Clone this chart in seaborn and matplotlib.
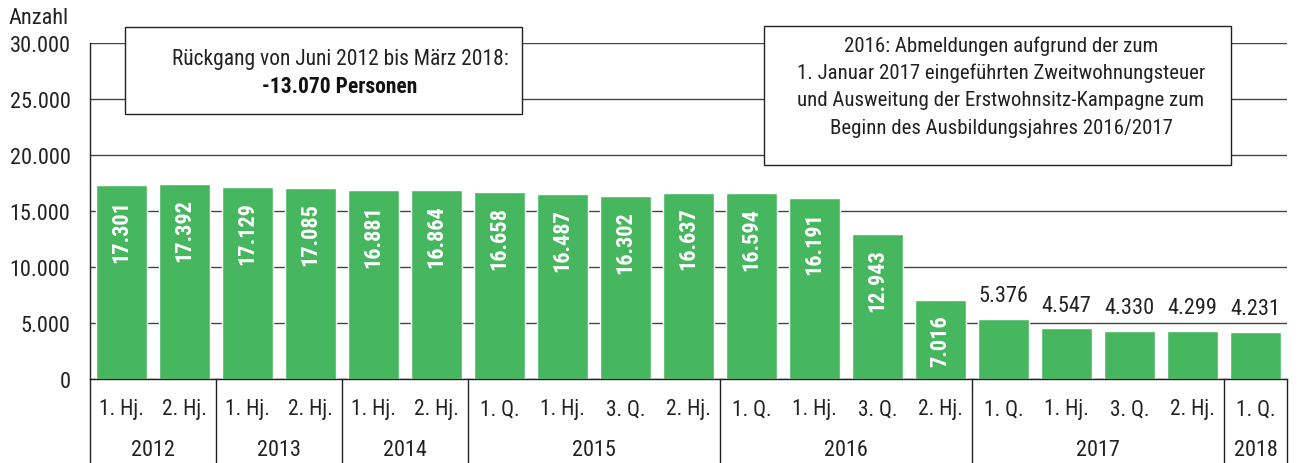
import matplotlib
matplotlib.use("Agg")
import matplotlib.pyplot as plt
from matplotlib.patches import Rectangle
from matplotlib.font_manager import findfont, FontProperties
import seaborn as sns
import pandas as pd
import numpy as np

years = ["2012", "2012", "2013", "2013", "2014", "2014", "2015", "2015", "2015", "2015",
         "2016", "2016", "2016", "2016", "2017", "2017", "2017", "2017", "2018"]
periods = ["1. Hj.", "2. Hj.", "1. Hj.", "2. Hj.", "1. Hj.", "2. Hj.", "1. Q.", "1. Hj.", "3. Q.", "2. Hj.",
           "1. Q.", "1. Hj.", "3. Q.", "2. Hj.", "1. Q.", "1. Hj.", "3. Q.", "2. Hj.", "1. Q."]
values = [17301, 17392, 17129, 17085, 16881, 16864, 16658, 16487, 16302, 16637,
          16594, 16191, 12943, 7016, 5376, 4547, 4330, 4299, 4231]
yticks = [0, 5000, 10000, 15000, 20000, 25000, 30000]
note_left = ["Rückgang von Juni 2012 bis März 2018:", "-13.070 Personen"]
note_right = ["2016: Abmeldungen aufgrund der zum",
              "1. Januar 2017 eingeführten Zweitwohnungsteuer",
              "und Ausweitung der Erstwohnsitz-Kampagne zum",
              "Beginn des Ausbildungsjahres 2016/2017"]

def de(v):
    return f"{v:,}".replace(",", ".")

sns.set_theme(style="white")
fam = "DejaVu Sans"
for cand in ["Liberation Sans Narrow", "Roboto Condensed", "Open Sans Condensed", "Roboto"]:
    try:
        f = findfont(FontProperties(family=cand), fallback_to_default=False)
        fam = cand
        break
    except Exception:
        pass
plt.rcParams["font.family"] = [fam, "DejaVu Sans"]

TXT = "#222222"
FS_NUM = 16
FS_TXT = 15.5

W, H = 1298, 464
fig = plt.figure(figsize=(W / 100, H / 100), dpi=100)
ax = fig.add_axes([90 / W, 1 - 380 / H, 1197 / W, 336 / H])

df = pd.DataFrame({"key": [f"{y} {p} {i}" for i, (y, p) in enumerate(zip(years, periods))],
                   "value": values})
green = "#47b75f"
sns.barplot(data=df, x="key", y="value", color=green, saturation=1, width=0.81, ax=ax, zorder=2)

ax.set_xlim(-0.5, len(values) - 0.5)
ax.set_ylim(0, 30000)
ax.set_yticks(yticks)
ax.set_yticklabels([de(v) for v in yticks], fontsize=FS_NUM)
ax.tick_params(axis="y", length=0, pad=14, colors=TXT)
ax.set_xticks([])
ax.set_xlabel("")
ax.set_ylabel("")
ax.yaxis.grid(True, color="#444444", lw=1)
ax.set_axisbelow(True)
for s in ["top", "right"]:
    ax.spines[s].set_visible(False)
ax.spines["left"].set_color(TXT)
ax.spines["bottom"].set_color(TXT)
ax.spines["left"].set_linewidth(1)
ax.spines["bottom"].set_linewidth(1)

trans = ax.get_xaxis_transform()
bottom_y = -(H - 380) / 336
ax.plot([-0.5, -0.5], [0, bottom_y], transform=trans, color=TXT, lw=1, clip_on=False)
ax.plot([len(values) - 0.5] * 2, [0, bottom_y], transform=trans, color=TXT, lw=1, clip_on=False)

groups = []
start = 0
for i in range(1, len(years) + 1):
    if i == len(years) or years[i] != years[start]:
        groups.append((years[start], start, i - 1))
        start = i
for y, a, b in groups:
    if b < len(years) - 1:
        ax.plot([b + 0.5] * 2, [0, bottom_y], transform=trans, color=TXT, lw=1, clip_on=False)
    ax.text((a + b) / 2, -70 / 336, y, transform=trans, ha="center", va="center", fontsize=FS_NUM, color=TXT)
for i, p in enumerate(periods):
    ax.text(i, -30 / 336, p, transform=trans, ha="center", va="center", fontsize=FS_TXT, color=TXT)

for i, v in enumerate(values):
    if v > 6000:
        ax.annotate(de(v), (i, v), xytext=(0, -10), textcoords="offset points", rotation=90,
                    ha="center", va="top", color="white", fontweight="bold", fontsize=FS_NUM, zorder=4)
    else:
        ax.annotate(de(v), (i, v), xytext=(0, 9), textcoords="offset points",
                    ha="center", va="bottom", color=TXT, fontsize=FS_NUM, zorder=4,
                    bbox=dict(boxstyle="square,pad=0.15", fc="white", ec="none"))

fig.text(8 / W, 1 - 18 / H, "Anzahl", ha="left", va="center", fontsize=FS_NUM, color=TXT)

def box(x0, y0, x1, y1):
    r = Rectangle((x0 / W, 1 - y1 / H), (x1 - x0) / W, (y1 - y0) / H, transform=fig.transFigure,
                  fc="white", ec=TXT, lw=1, zorder=5)
    fig.add_artist(r)

box(125, 28, 522, 115)
fig.text(340 / W, 1 - 60 / H, note_left[0], ha="center", va="center", fontsize=FS_TXT, color=TXT, zorder=6)
fig.text(340 / W, 1 - 87 / H, note_left[1], ha="center", va="center", fontsize=FS_TXT, fontweight="bold",
         color="#111111", zorder=6)
box(764, 27, 1231, 166)
for k, line in enumerate(note_right):
    fig.text(1001 / W, 1 - (46 + 27.5 * k) / H, line, ha="center", va="center", fontsize=15,
             color=TXT, zorder=6)

fig.savefig("out.png", dpi=100)
